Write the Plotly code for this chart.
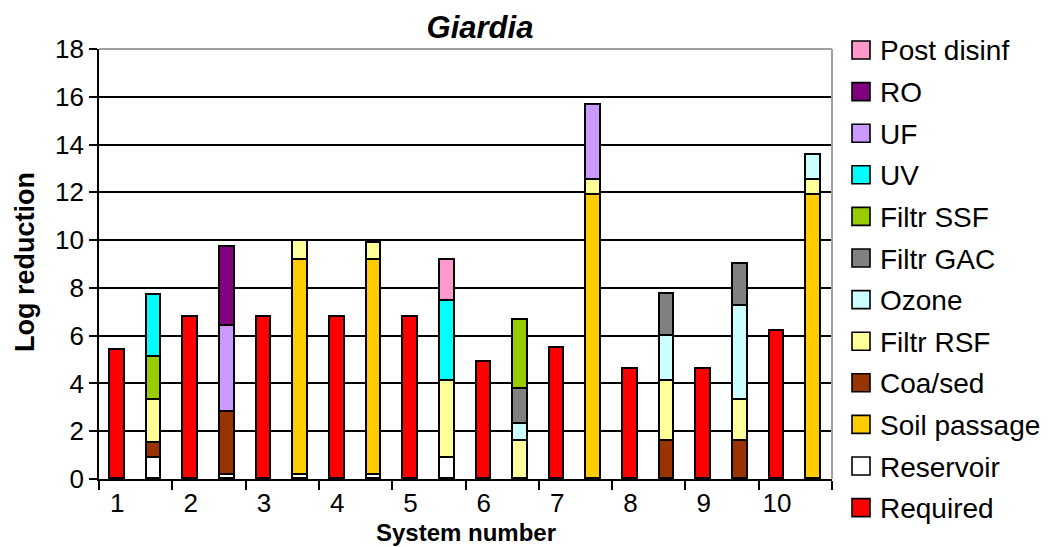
import plotly.graph_objects as go

# Log reduction of Giardia per system: required target and treatment barriers
systems = [1, 2, 3, 4, 5, 6, 7, 8, 9, 10]
required = [5.4, 6.8, 6.8, 6.8, 6.8, 4.9, 5.5, 4.6, 4.6, 6.2]

reservoir = [0.9, 0.15, 0.15, 0.15, 0.9, 0, 0, 0, 0, 0]
soil_passage = [0, 0, 9.0, 9.0, 0, 0, 11.9, 0, 0, 11.9]
coa_sed = [0.6, 2.65, 0, 0, 0, 0, 0, 1.6, 1.6, 0]
filtr_rsf = [1.8, 0, 0.8, 0.75, 3.2, 1.6, 0.6, 2.5, 1.7, 0.6]
ozone = [0, 0, 0, 0, 0, 0.7, 0, 1.9, 3.95, 1.05]
filtr_gac = [0, 0, 0, 0, 0, 1.45, 0, 1.75, 1.75, 0]
filtr_ssf = [1.8, 0, 0, 0, 0, 2.9, 0, 0, 0, 0]
uv = [2.6, 0, 0, 0, 3.35, 0, 0, 0, 0, 0]
uf = [0, 3.6, 0, 0, 0, 0, 3.15, 0, 0, 0]
ro = [0, 3.3, 0, 0, 0, 0, 0, 0, 0, 0]
post_disinf = [0, 0, 0, 0, 1.7, 0, 0, 0, 0, 0]

barriers = [
    ("Reservoir", reservoir, "#FFFFFF"),
    ("Soil passage", soil_passage, "#FFCC00"),
    ("Coa/sed", coa_sed, "#993300"),
    ("Filtr RSF", filtr_rsf, "#FFFF99"),
    ("Ozone", ozone, "#CCFFFF"),
    ("Filtr GAC", filtr_gac, "#808080"),
    ("Filtr SSF", filtr_ssf, "#99CC00"),
    ("UV", uv, "#00FFFF"),
    ("UF", uf, "#CC99FF"),
    ("RO", ro, "#800080"),
    ("Post disinf", post_disinf, "#FF99CC"),
]
REQUIRED_COLOR = "#FF0000"

FONT = "Liberation Sans, Arial, sans-serif"
BAR_W = 0.2
x_req = [s for s in systems]
x_trt = [s + 0.5 for s in systems]

# Plot area geometry in pixels (used for the legend and axis titles)
W, H = 1050, 547
L, R, T, B = 99, 218, 49, 68
PW, PH = W - L - R, H - T - B


def px_x(px):
    return (px - L) / PW


def px_y(py):
    return (H - B - py) / PH


fig = go.Figure()
fig.add_trace(go.Bar(
    x=x_req, y=required, name="Required", width=BAR_W,
    marker=dict(color=REQUIRED_COLOR, line=dict(color="black", width=1.6)),
))
for name, vals, color in barriers:
    fig.add_trace(go.Bar(
        x=x_trt, y=[v if v else None for v in vals], name=name, width=BAR_W,
        marker=dict(color=color, line=dict(color="black", width=1.6)),
    ))

fig.update_layout(
    width=W, height=H,
    margin=dict(l=L, r=R, t=T, b=B),
    paper_bgcolor="white", plot_bgcolor="white",
    barmode="stack", bargap=0,
    font=dict(family=FONT, color="black"),
    title=dict(text="<b><i>Giardia</i></b>", x=480 / W, xanchor="center",
               y=1 - 27 / H, yanchor="middle",
               font=dict(size=31, family=FONT, color="black")),
    showlegend=False,
)

fig.update_xaxes(
    range=[0.75, 10.75], tickmode="array", tickvals=systems,
    ticktext=[str(s) for s in systems], ticks="", showgrid=False,
    tickfont=dict(size=26, family=FONT, color="black"),
    showline=True, linecolor="black", linewidth=1.6, zeroline=False,
    minor=dict(tickmode="array", tickvals=[0.75 + k for k in range(11)],
               ticks="outside", ticklen=9, tickcolor="black", tickwidth=1.6,
               showgrid=False),
)
fig.update_yaxes(
    range=[0, 18], tickmode="array", tickvals=list(range(0, 19, 2)),
    ticks="outside", ticklen=8, tickcolor="black", tickwidth=1.6,
    tickfont=dict(size=26, family=FONT, color="black"),
    showgrid=True, gridcolor="black", gridwidth=1.6,
    showline=True, linecolor="black", linewidth=1.6, zeroline=False,
)

# Light frame on the top and right of the plotting area
fig.add_shape(type="line", xref="paper", yref="paper", x0=0, x1=1, y0=1, y1=1,
              line=dict(color="#A0A0A0", width=2), layer="above")
fig.add_shape(type="line", xref="paper", yref="paper", x0=1, x1=1, y0=0, y1=1,
              line=dict(color="#A0A0A0", width=2), layer="above")

# Axis titles
fig.add_annotation(text="<b>System number</b>", xref="paper", yref="paper",
                   x=0.5, y=px_y(532), xanchor="center", yanchor="middle",
                   showarrow=False, font=dict(size=24, family=FONT, color="black"))
fig.add_annotation(text="<b>Log reduction</b>", xref="paper", yref="paper",
                   x=px_x(25), y=px_y(262), xanchor="center", yanchor="middle",
                   textangle=-90, showarrow=False,
                   font=dict(size=27, family=FONT, color="black"))

# Legend: top entry is the last barrier, bottom entry is "Required"
legend_items = [(n, c) for n, _, c in reversed(barriers)] + [("Required", REQUIRED_COLOR)]
y0, step = 50, 41.6
for i, (name, color) in enumerate(legend_items):
    cy = y0 + i * step
    fig.add_shape(type="rect", xref="paper", yref="paper",
                  x0=px_x(852), x1=px_x(870), y0=px_y(cy + 9), y1=px_y(cy - 9),
                  fillcolor=color, line=dict(color="black", width=1.6))
    fig.add_annotation(text=name, xref="paper", yref="paper",
                       x=px_x(878), y=px_y(cy + 1), xanchor="left", yanchor="middle",
                       showarrow=False, font=dict(size=28, family=FONT, color="black"))

fig.write_html("out.html")
